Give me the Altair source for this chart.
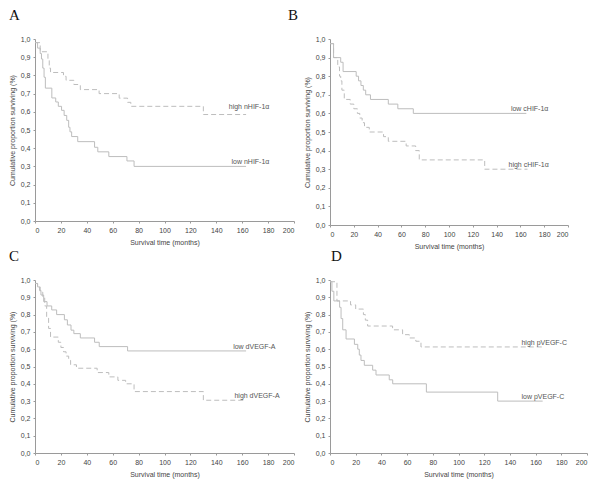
import altair as alt
import pandas as pd

# ---- Panel A: nHIF-1a ----
a_low_t = [0, 2, 4, 5, 6, 7, 8, 13, 16, 18, 20.5, 22.5, 24.5, 26, 27, 28.3, 33, 46, 48.5, 57, 71, 76.5, 163]
a_low_s = [0.98, 0.95, 0.92, 0.89, 0.84, 0.79, 0.73, 0.676, 0.654, 0.63, 0.608, 0.58, 0.553, 0.515, 0.49, 0.464, 0.436, 0.405, 0.38, 0.354, 0.33, 0.30, 0.30]
a_high_t = [0, 4, 10, 11, 12, 22, 24, 30, 35, 49.5, 65, 71.5, 74, 130, 163]
a_high_s = [0.98, 0.93, 0.885, 0.84, 0.816, 0.795, 0.773, 0.75, 0.722, 0.70, 0.675, 0.652, 0.63, 0.585, 0.585]

# ---- Panel B: cHIF-1a ----
b_low_t = [0, 3, 9, 11, 22, 24, 26, 28, 30, 34, 49, 57, 70, 165]
b_low_s = [0.975, 0.90, 0.875, 0.825, 0.80, 0.775, 0.75, 0.725, 0.70, 0.675, 0.65, 0.625, 0.60, 0.60]
b_high_t = [0, 3, 6.5, 8, 9, 10, 12, 17, 20, 23, 25, 27, 29, 33, 45, 49, 64, 72, 75, 130, 166]
b_high_s = [0.975, 0.90, 0.85, 0.80, 0.775, 0.725, 0.675, 0.65, 0.625, 0.60, 0.575, 0.55, 0.525, 0.50, 0.475, 0.45, 0.425, 0.40, 0.35, 0.30, 0.30]

# ---- Panel C: dVEGF-A ----
c_low_t = [0, 2, 3.5, 4.6, 6.7, 9.3, 12.9, 16.7, 22.7, 25, 27.8, 30, 35, 46, 49.6, 71.5, 163]
c_low_s = [0.98, 0.96, 0.94, 0.913, 0.875, 0.85, 0.827, 0.80, 0.77, 0.74, 0.71, 0.69, 0.665, 0.64, 0.615, 0.59, 0.59]
c_high_t = [0, 2, 4, 6, 7.5, 9, 10.5, 12, 18, 20, 22, 24, 26, 27.5, 32, 48, 57, 64, 70, 76.5, 130, 163]
c_high_s = [0.98, 0.96, 0.93, 0.90, 0.85, 0.78, 0.72, 0.67, 0.64, 0.61, 0.585, 0.56, 0.535, 0.51, 0.49, 0.465, 0.44, 0.42, 0.40, 0.355, 0.305, 0.305]

# ---- Panel D: pVEGF-C ----
d_low_t = [0, 1.5, 3, 7.5, 8.6, 9.9, 12.5, 19, 21.6, 22.8, 24.1, 26.7, 33.2, 35.8, 46.1, 48.8, 75, 130.5, 165.5]
d_low_s = [0.99, 0.935, 0.879, 0.842, 0.777, 0.712, 0.659, 0.628, 0.60, 0.566, 0.535, 0.507, 0.479, 0.451, 0.423, 0.40, 0.352, 0.30, 0.30]
d_high_t = [0, 5.4, 16, 20, 26, 27.5, 29.3, 48.7, 56.5, 61.7, 66.8, 70.8, 165.5]
d_high_s = [0.99, 0.879, 0.856, 0.832, 0.80, 0.768, 0.734, 0.712, 0.684, 0.665, 0.646, 0.613, 0.613]

# label texts and positions (months, proportion)
labels_A = ["high nHIF-1α", "low nHIF-1α"]
labels_A_x = [181, 181]
labels_A_y = [0.625, 0.325]
labels_B = ["low cHIF-1α", "high cHIF-1α"]
labels_B_x = [152, 150]
labels_B_y = [0.625, 0.325]
labels_C = ["low dVEGF-A", "high dVEGF-A"]
labels_C_x = [153, 154]
labels_C_y = [0.615, 0.33]
labels_D = ["high pVEGF-C", "low pVEGF-C"]
labels_D_x = [149, 149]
labels_D_y = [0.637, 0.324]

x_ticks = [0, 20, 40, 60, 80, 100, 120, 140, 160, 180, 200]
y_ticks = [0.0, 0.1, 0.2, 0.3, 0.4, 0.5, 0.6, 0.7, 0.8, 0.9, 1.0]

LINE = "#bdbdbd"
TXT = "#555555"


def panel(letter, dx, w, h, low_t, low_s, high_t, high_s, lab, lab_x, lab_y, lab_align):
    xs = alt.Scale(domain=[0, 200], nice=False)
    ys = alt.Scale(domain=[0, 1], nice=False)
    xax = alt.Axis(values=x_ticks, title="Survival time (months)", format="d", labelOverlap=False)
    yax = alt.Axis(values=y_ticks, title="Cumulative proportion surviving (%)", labelOverlap=False,
                   labelExpr="replace(format(datum.value, '.1f'), '.', ',')")
    low = pd.DataFrame({"t": low_t, "s": low_s})
    high = pd.DataFrame({"t": high_t, "s": high_s})
    lbl = pd.DataFrame({"x": lab_x, "y": lab_y, "text": lab})
    solid = alt.Chart(low).mark_line(interpolate="step-after", color=LINE, strokeWidth=1).encode(
        x=alt.X("t:Q", scale=xs, axis=xax), y=alt.Y("s:Q", scale=ys, axis=yax))
    dashed = alt.Chart(high).mark_line(interpolate="step-after", color=LINE, strokeWidth=1,
                                       strokeDash=[5, 3]).encode(
        x=alt.X("t:Q", scale=xs, axis=xax), y=alt.Y("s:Q", scale=ys, axis=yax))
    text = alt.Chart(lbl).mark_text(align=lab_align, baseline="middle", fontSize=7,
                                    font="Liberation Sans", color=TXT).encode(
        x=alt.X("x:Q", scale=xs, axis=xax), y=alt.Y("y:Q", scale=ys, axis=yax), text="text:N")
    return alt.layer(solid, dashed, text).properties(
        width=w, height=h,
        title=alt.TitleParams(text=letter, anchor="start", frame="group", dx=dx, offset=12,
                              font="Liberation Serif", fontSize=15, fontWeight="normal",
                              color="#111111"))


pA = panel("A", -26, 259, 182, a_low_t, a_low_s, a_high_t, a_high_s, labels_A, labels_A_x, labels_A_y, "right")
pB = panel("B", -42, 238, 186, b_low_t, b_low_s, b_high_t, b_high_s, labels_B, labels_B_x, labels_B_y, "left")
pC = panel("C", -26, 259, 173, c_low_t, c_low_s, c_high_t, c_high_s, labels_C, labels_C_x, labels_C_y, "left")
pD = panel("D", 1, 257, 173, d_low_t, d_low_s, d_high_t, d_high_s, labels_D, labels_D_x, labels_D_y, "left")

chart = alt.concat(pA, pB, pC, pD, columns=2, spacing=alt.RowColnumber(row=55, column=36),
                   bounds="flush").properties(padding={"left": 0, "top": 0, "right": 0, "bottom": 12})

chart = chart.configure_view(stroke=None).configure_axis(
    grid=False, domainColor="#9a9a9a", tickColor="#9a9a9a", tickSize=2, domainWidth=1,
    labelColor="#444444", titleColor="#444444", labelFont="Liberation Sans", titleFont="Liberation Sans",
    labelFontSize=7, titleFontSize=7, titleFontWeight="normal", labelPadding=3, labelOverlap=False,
).configure_axisY(titlePadding=5).configure_axisX(titlePadding=5, labelPadding=3)

chart.save("out.html", embed_options={"renderer": "svg", "actions": False})
